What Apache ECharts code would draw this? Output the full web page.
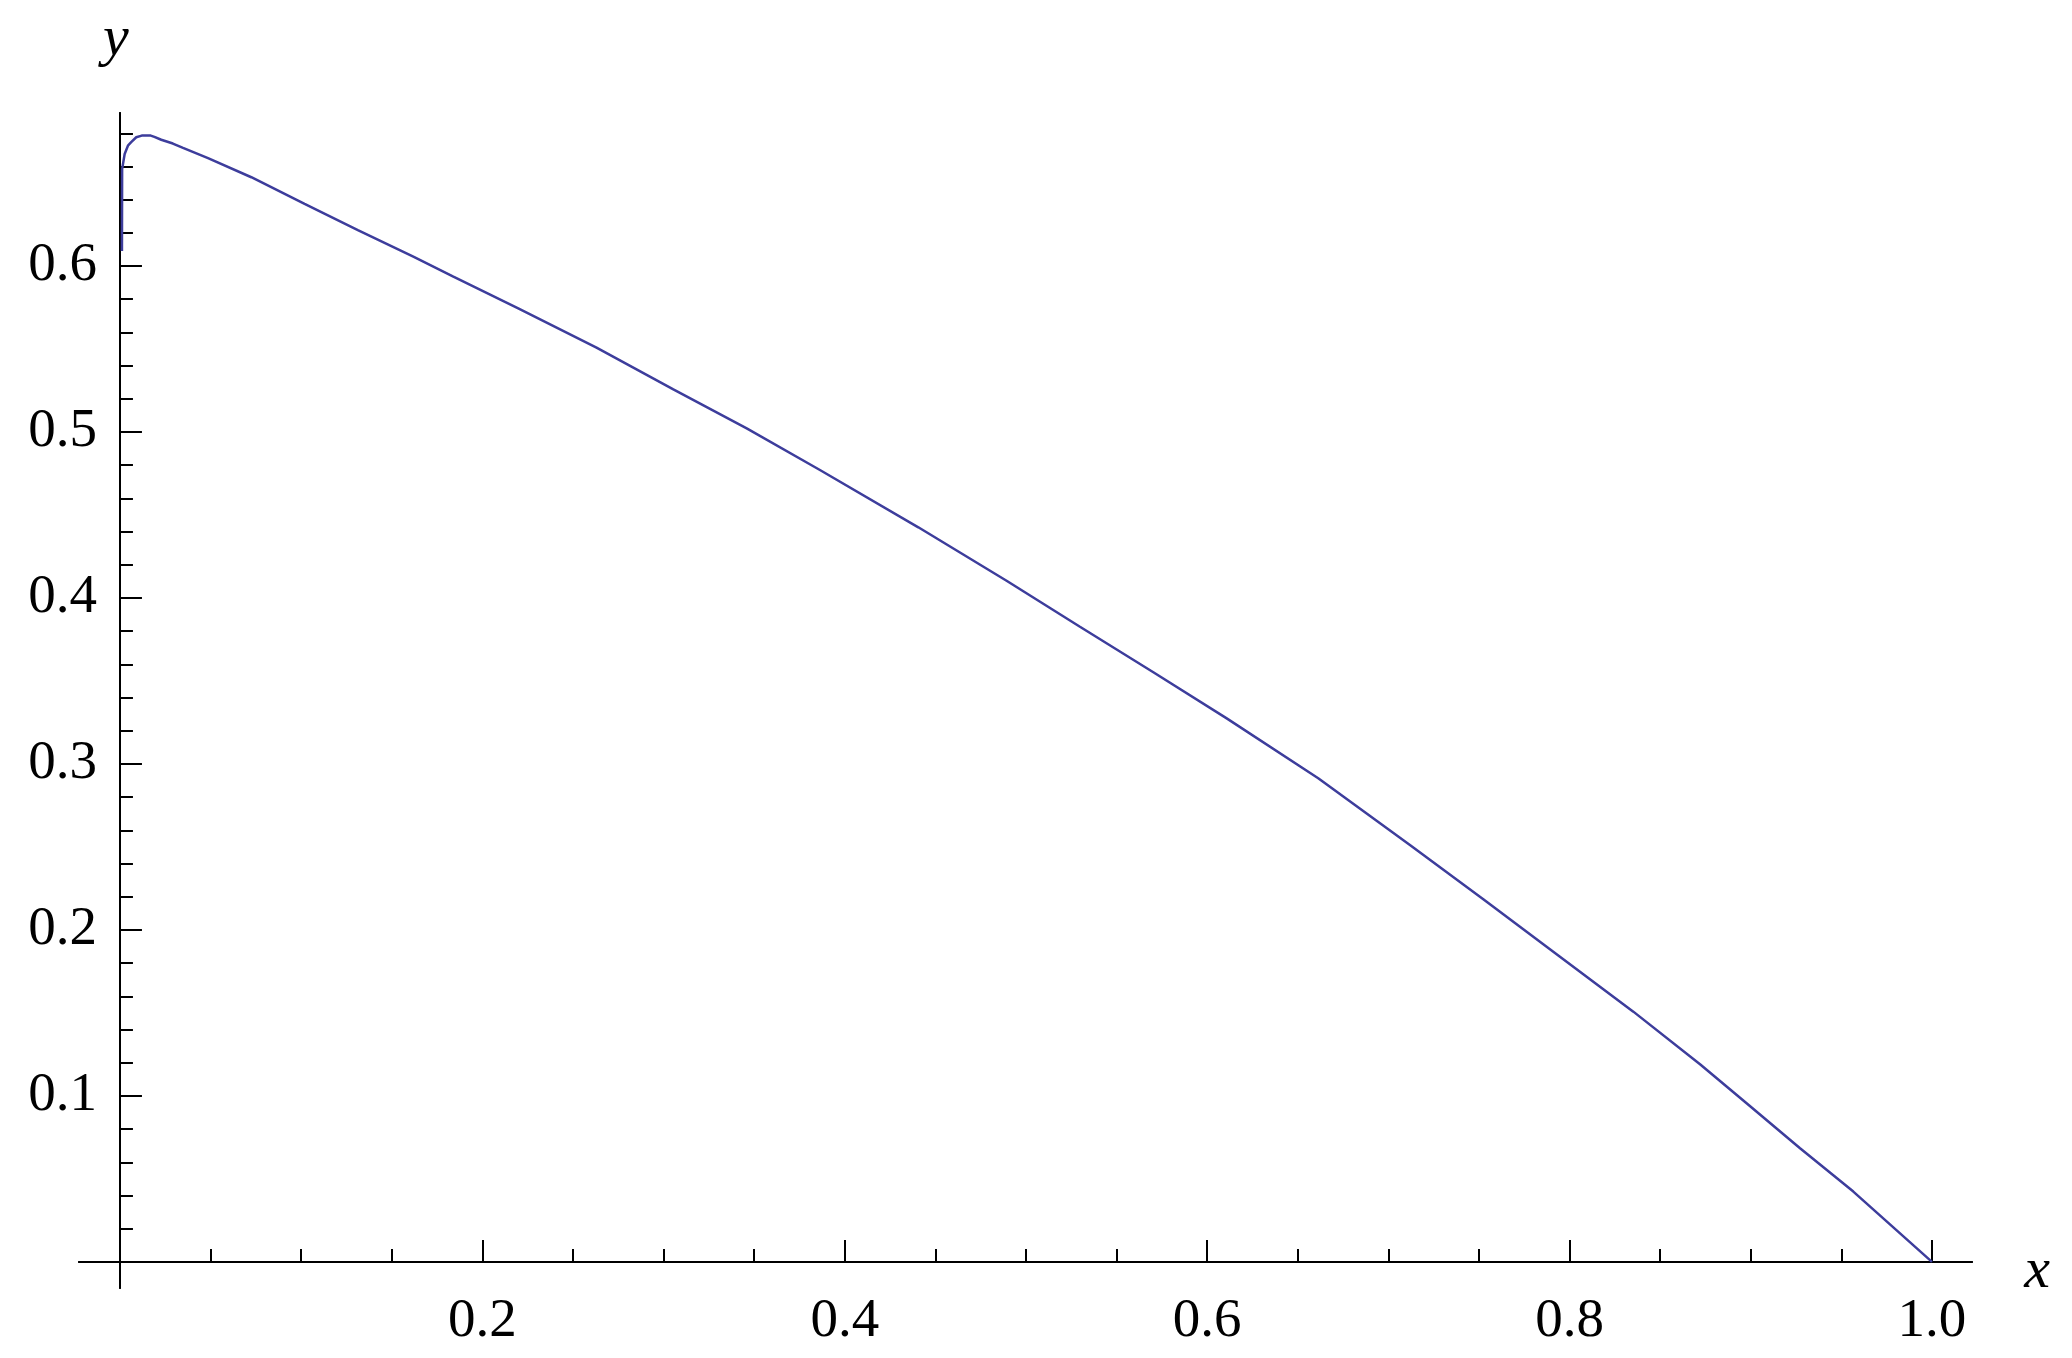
<!DOCTYPE html>
<html>
<head>
<meta charset="utf-8">
<script src="https://cdn.jsdelivr.net/npm/echarts@6/dist/echarts.min.js"></script>
<style>
html,body{margin:0;padding:0;background:#fff;}
#chart{width:2072px;height:1358px;}
</style>
</head>
<body>
<div id="chart"></div>
<script>
// Curve samples
var xValues = [0.0011, 0.0012, 0.0026, 0.0044, 0.0062, 0.0090, 0.012, 0.017, 0.019, 0.0228, 0.0292, 0.0348, 0.0486, 0.0725, 0.1019, 0.1313, 0.1619, 0.184, 0.2198, 0.263, 0.3054, 0.3459, 0.3863, 0.4406, 0.4893, 0.5298, 0.5703, 0.6108, 0.6613, 0.7119, 0.7524, 0.7947, 0.8352, 0.872, 0.8977, 0.9272, 0.9566, 1.0];
var yValues = [0.609, 0.6584, 0.6675, 0.6725, 0.6746, 0.6776, 0.6786, 0.6786, 0.6778, 0.6761, 0.6738, 0.6712, 0.6650, 0.6535, 0.6375, 0.6217, 0.6056, 0.5936, 0.5745, 0.5508, 0.5257, 0.5022, 0.4771, 0.4426, 0.4104, 0.3827, 0.3553, 0.3275, 0.2914, 0.2512, 0.2185, 0.1839, 0.1508, 0.1191, 0.0956, 0.0685, 0.0424, 0];

var xMajorTicks = [0.2, 0.4, 0.6, 0.8, 1.0];
var xMinorTicks = [0.05, 0.1, 0.15, 0.25, 0.3, 0.35, 0.45, 0.5, 0.55, 0.65, 0.7, 0.75, 0.85, 0.9, 0.95];
var yMajorTicks = [0.1, 0.2, 0.3, 0.4, 0.5, 0.6];
var yMinorTicks = [0.02, 0.04, 0.06, 0.08, 0.12, 0.14, 0.16, 0.18, 0.22, 0.24, 0.26, 0.28, 0.32, 0.34, 0.36, 0.38, 0.42, 0.44, 0.46, 0.48, 0.52, 0.54, 0.56, 0.58, 0.62, 0.64, 0.66, 0.68];

var xRange = [-0.0226, 1.0221];
var yRange = [-0.0157, 0.6922];

var data = xValues.map(function (x, i) { return [x, yValues[i]]; });

var serif = 'Liberation Serif';
var lineCol = '#000';

function xAxisDef(ticks, len, labels) {
  return {
    type: 'value', position: 'bottom', min: xRange[0], max: xRange[1],
    splitLine: { show: false },
    axisLine: { show: true, onZero: true, onZeroAxisIndex: 0, lineStyle: { color: lineCol, width: 2 } },
    axisTick: { show: true, inside: true, length: len, customValues: ticks, lineStyle: { color: lineCol, width: 2 } },
    axisLabel: labels ? {
      show: true, customValues: ticks, margin: 6,
      fontFamily: serif, fontSize: 55, color: '#000',
      formatter: function (v) { return v.toFixed(1); }
    } : { show: false }
  };
}
function yAxisDef(ticks, len, labels) {
  return {
    type: 'value', position: 'left', min: yRange[0], max: yRange[1],
    splitLine: { show: false },
    axisLine: { show: true, onZero: true, onZeroAxisIndex: 0, lineStyle: { color: lineCol, width: 2 } },
    axisTick: { show: true, inside: true, length: len, customValues: ticks, lineStyle: { color: lineCol, width: 2 } },
    axisLabel: labels ? {
      show: true, customValues: ticks, margin: -18,
      fontFamily: serif, fontSize: 55, color: '#000', padding: [8, 0, 0, 0],
      formatter: function (v) { return v.toFixed(1); }
    } : { show: false }
  };
}

var xMain = xAxisDef(xMajorTicks, 22, true);
xMain.name = 'x';
xMain.nameLocation = 'end';
xMain.nameGap = 65;
xMain.nameTextStyle = { fontFamily: serif, fontStyle: 'italic', fontSize: 58, color: '#000', align: 'center', verticalAlign: 'top', lineHeight: 20 };

var yMain = yAxisDef(yMajorTicks, 22, true);
yMain.name = 'y';
yMain.nameLocation = 'end';
yMain.nameGap = 73;
yMain.nameTextStyle = { fontFamily: serif, fontStyle: 'italic', fontSize: 58, color: '#000', align: 'center', verticalAlign: 'middle', padding: [0, 8, 0, 0] };

var chart = echarts.init(document.getElementById('chart'), null, { renderer: 'canvas' });
chart.setOption({
  animation: false,
  backgroundColor: '#fff',
  grid: { left: 79, right: 100, top: 113, bottom: 70, containLabel: false, outerBoundsMode: 'none' },
  xAxis: [xMain, xAxisDef(xMinorTicks, 13, false)],
  yAxis: [yMain, yAxisDef(yMinorTicks, 13, false)],
  series: [{
    type: 'line', xAxisIndex: 0, yAxisIndex: 0,
    data: data, showSymbol: false, smooth: false,
    lineStyle: { color: '#3d3d9c', width: 2.5 },
    itemStyle: { color: '#3d3d9c' }
  }]
});
</script>
</body>
</html>
